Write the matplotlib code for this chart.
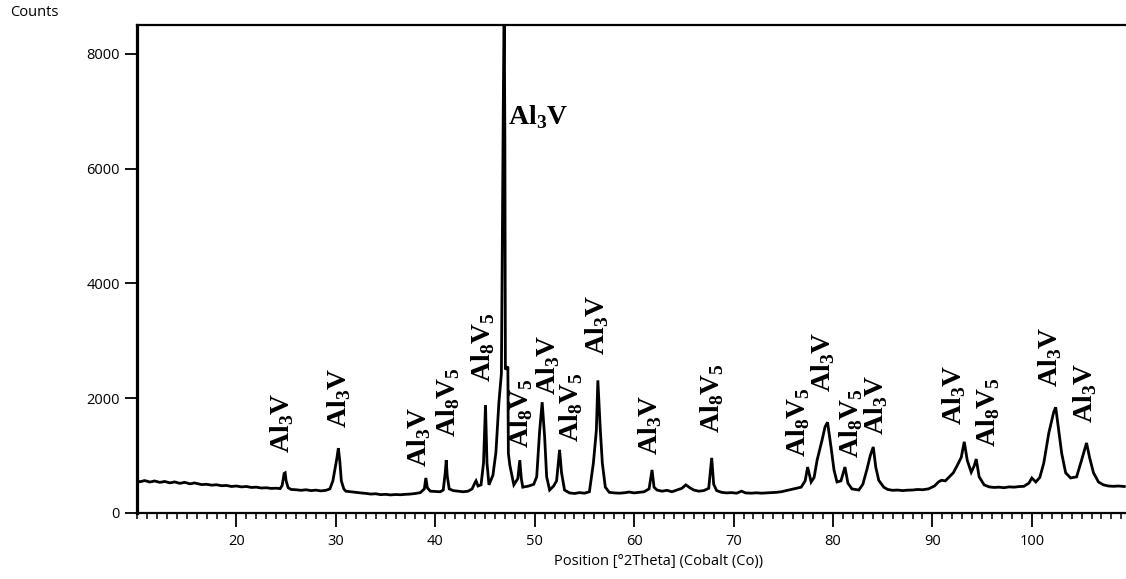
import matplotlib
matplotlib.use("Agg")
import matplotlib.pyplot as plt
from matplotlib.ticker import MultipleLocator

# Diffraction pattern (Co K-alpha), position in degrees 2-theta and intensity in counts
two_theta = [
    10.0, 10.25, 10.5, 10.75, 11.0, 11.25, 11.5, 11.75, 12.0, 12.25, 12.5, 12.75, 13.0,
    13.25, 13.5, 13.75, 14.0, 14.25, 14.5, 14.75, 15.0, 15.25, 15.5, 15.75, 16.0, 16.5,
    17.0, 17.5, 18.0, 18.5, 19.0, 19.5, 20.0, 20.5, 21.0, 21.5, 22.0, 22.5, 23.0, 23.5,
    24.0, 24.4, 24.6, 24.8, 24.9, 25.0, 25.2, 25.5, 26.0, 26.5, 27.0, 27.5, 28.0, 28.5,
    29.0, 29.4, 29.7, 29.9, 30.1, 30.25, 30.4, 30.55, 30.8, 31.0, 31.5, 32.0, 32.5, 33.0,
    33.5, 34.0, 34.5, 35.0, 35.5, 36.0, 36.5, 37.0, 37.5, 38.0, 38.5, 38.9, 39.05, 39.2,
    39.5, 40.0, 40.5, 40.8, 41.0, 41.1, 41.2, 41.4, 41.8, 42.3, 42.8, 43.3, 43.7, 44.0,
    44.1, 44.3, 44.6, 44.85, 45.05, 45.2, 45.4, 45.8, 46.1, 46.4, 46.65, 46.85, 46.93,
    47.0, 47.05, 47.3, 47.35, 47.5, 47.9, 48.3, 48.5, 48.65, 48.8, 49.4, 49.9, 50.2,
    50.5, 50.75, 51.0, 51.2, 51.5, 51.9, 52.2, 52.5, 52.7, 53.0, 53.5, 54.0, 54.5, 55.0,
    55.5, 55.9, 56.2, 56.35, 56.6, 56.8, 57.1, 57.5, 58.0, 58.5, 59.0, 59.5, 60.0, 60.5,
    61.0, 61.5, 61.8, 62.0, 62.3, 62.8, 63.3, 63.8, 64.3, 64.8, 65.2, 65.6, 66.0, 66.5,
    67.0, 67.5, 67.8, 68.0, 68.3, 68.8, 69.3, 69.8, 70.3, 70.8, 71.2, 71.8, 72.3, 72.8,
    73.3, 73.8, 74.3, 74.8, 75.3, 75.8, 76.3, 76.8, 77.2, 77.45, 77.8, 78.1, 78.4, 78.9,
    79.2, 79.45, 79.8, 80.1, 80.4, 80.8, 81.2, 81.5, 81.9, 82.6, 83.0, 83.4, 83.75, 84.05,
    84.3, 84.6, 85.1, 85.5, 86.0, 86.5, 87.0, 87.5, 88.0, 88.5, 89.0, 89.6, 90.2, 90.6,
    90.9, 91.3, 91.7, 92.1, 92.5, 92.9, 93.2, 93.5, 93.9, 94.2, 94.4, 94.7, 95.2, 95.7,
    96.2, 96.7, 97.2, 97.7, 98.2, 98.7, 99.2, 99.7, 100.0, 100.4, 100.8, 101.2, 101.7,
    102.2, 102.4, 102.7, 103.0, 103.4, 103.9, 104.5, 105.0, 105.5, 105.8, 106.2, 106.7,
    107.2, 107.7, 108.2, 108.7, 109.3,
]
counts = [
    560, 545, 552, 565, 555, 540, 546, 558, 548, 535, 538, 550, 540,
    526, 530, 542, 532, 518, 522, 534, 525, 510, 512, 524, 515, 495,
    500, 485, 492, 475, 480, 462, 470, 455, 462, 445, 450, 435, 440, 428,
    432, 425, 480, 690, 700, 560, 440, 410, 405, 395, 405, 390, 398, 385,
    395, 420, 560, 760, 950, 1130, 900, 560, 420, 380, 370, 360, 350, 342,
    330, 335, 320, 325, 315, 322, 318, 325, 330, 340, 355, 420, 610, 440,
    380, 375, 370, 400, 700, 920, 650, 420, 390, 380, 370, 380, 420, 530,
    560, 470, 490, 870, 1880, 870, 490, 660, 1060, 1930, 2430, 7360, 8900,
    6450, 2500, 2550, 1040, 830, 490, 600, 920, 600, 450, 470, 500, 630,
    1440, 1930, 1320, 630, 400, 470, 560, 1100, 700, 400, 350, 340, 355, 345,
    370, 870, 1440, 2310, 1440, 870, 450, 360, 350, 345, 352, 365, 350, 360,
    370, 420, 750, 450, 400, 380, 395, 370, 400, 430, 490, 440, 400, 380,
    390, 430, 960, 500, 390, 360, 350, 355, 345, 380, 350, 345, 352, 345,
    350, 355, 360, 370, 390, 410, 430, 450, 560, 800, 540, 620, 920, 1270,
    1500, 1580, 1150, 750, 540, 560, 800, 520, 420, 400, 500, 750, 1000, 1150,
    800, 570, 450, 410, 395, 400, 390, 398, 400, 410, 405, 420, 470, 540,
    570, 560, 630, 700, 830, 970, 1240, 920, 710, 820, 940, 630, 490, 455,
    445, 450, 440, 455, 450, 460, 465, 520, 610, 540, 620, 870, 1390,
    1760, 1840, 1440, 1040, 700, 610, 630, 920, 1220, 970, 700, 540,
    490, 470, 465, 470, 462,
]

# Phase identification labels: position, lower end of the label, phase
label_pos = [24.6, 30.35, 38.4, 41.3, 44.8, 48.6, 51.3, 53.7, 56.3, 61.6,
             67.8, 76.5, 79.0, 81.8, 84.3, 92.2, 95.6, 101.8, 105.4]
label_base = [1040, 1480, 800, 1320, 2280, 1130, 2050, 1240, 2750, 1010,
              1390, 980, 2110, 960, 1360, 1530, 1150, 2190, 1560]
label_phase = ["Al3V", "Al3V", "Al3V", "Al8V5", "Al8V5", "Al8V5", "Al3V", "Al8V5",
               "Al3V", "Al3V", "Al8V5", "Al8V5", "Al3V", "Al8V5", "Al3V", "Al3V",
               "Al8V5", "Al3V", "Al3V"]
main_label_pos = (47.3, 6900)

x_ticks = [20, 30, 40, 50, 60, 70, 80, 90, 100]
y_ticks = [0, 2000, 4000, 6000, 8000]

phase_text = {
    "Al3V": r"Al$_\mathregular{3}$V",
    "Al8V5": r"Al$_\mathregular{8}$V$_\mathregular{5}$",
}

plt.rcParams["font.family"] = ["Open Sans", "DejaVu Sans"]
fig = plt.figure(figsize=(11.26, 5.79), dpi=100)
ax = fig.add_axes([137 / 1126, 66 / 579, 1044 / 1126, 488 / 579])

ax.plot(two_theta, counts, color="black", lw=2.0, solid_joinstyle="miter")

ax.set_xlim(10, 115)
ax.set_ylim(0, 8500)
ax.set_xticks(x_ticks)
ax.xaxis.set_minor_locator(MultipleLocator(1))
ax.set_yticks(y_ticks)
ax.tick_params(axis="x", which="major", length=10, width=1.3, pad=5,
               labelsize=10.5, direction="out")
ax.tick_params(axis="x", which="minor", length=4, width=1.1, direction="out")
ax.tick_params(axis="y", which="major", length=8.5, width=1.3, pad=4,
               labelsize=10.5, direction="out")
ax.spines["left"].set_linewidth(2.3)
for side in ("top", "bottom", "right"):
    ax.spines[side].set_linewidth(1.6)

ax.set_xlabel("Position [°2Theta] (Cobalt (Co))", fontsize=10.5, labelpad=4)
fig.text(10 / 1126, 1 - 12 / 579, "Counts", fontsize=10.5, ha="left", va="center")

lab_font = dict(family="Liberation Serif", weight="bold", size=20)
for x, y, ph in zip(label_pos, label_base, label_phase):
    ax.text(x, y, phase_text[ph], rotation=90, ha="center", va="bottom", **lab_font)
ax.text(main_label_pos[0], main_label_pos[1], phase_text["Al3V"], ha="left",
        va="center", **lab_font)

fig.savefig("out.png", dpi=100)
